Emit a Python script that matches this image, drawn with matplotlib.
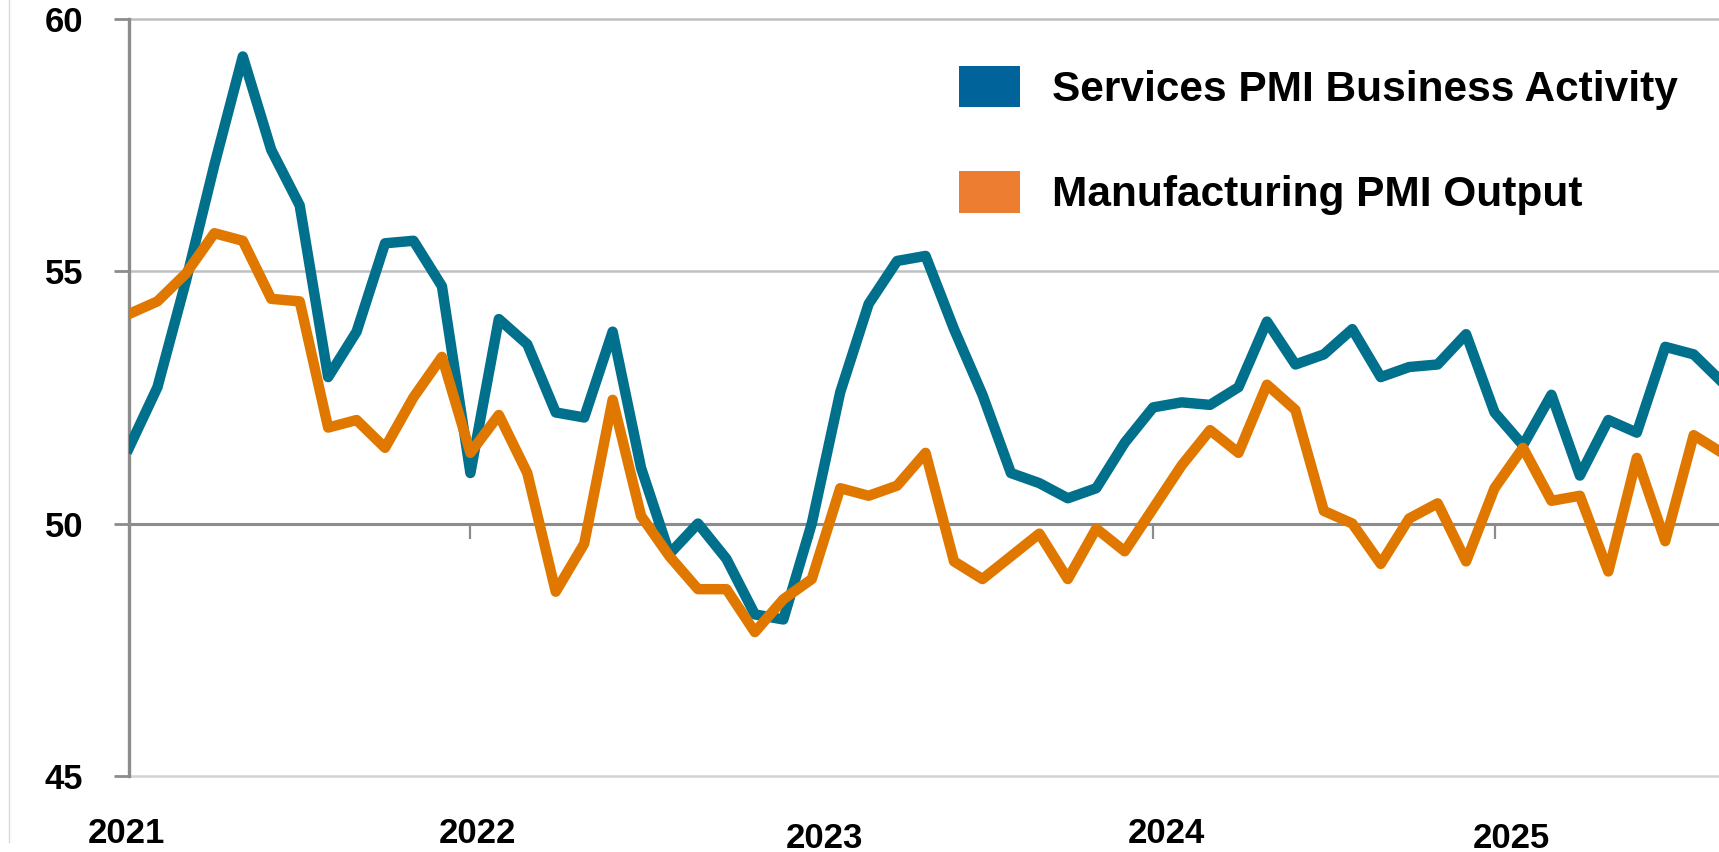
import matplotlib
matplotlib.use("Agg")
import matplotlib.pyplot as plt
from matplotlib.patches import Patch
from matplotlib.lines import Line2D
from matplotlib.transforms import blended_transform_factory

plt.rcParams['font.family'] = ['Liberation Sans', 'DejaVu Sans']

# monthly index, 0 = Jan 2021 ... 56 = Sep 2025
months = list(range(57))

services = [51.5, 52.7, 54.8, 57.1, 59.25, 57.4, 56.3, 52.9, 53.8, 55.55,
            55.6, 54.7, 51.0, 54.05, 53.55, 52.2, 52.1, 53.8, 51.1, 49.4,
            50.0, 49.3, 48.2, 48.1, 50.0, 52.6, 54.35, 55.2, 55.3, 53.85,
            52.55, 51.0, 50.8, 50.5, 50.7, 51.6, 52.3, 52.4, 52.35, 52.7,
            54.0, 53.15, 53.35, 53.85, 52.9, 53.1, 53.15, 53.75, 52.2, 51.55,
            52.55, 50.95, 52.05, 51.8, 53.5, 53.35, 52.8]

manufacturing = [54.15, 54.4, 54.95, 55.75, 55.6, 54.45, 54.4, 51.9, 52.05, 51.5,
                 52.5, 53.3, 51.4, 52.15, 51.0, 48.65, 49.6, 52.45, 50.15, 49.35,
                 48.7, 48.7, 47.85, 48.5, 48.9, 50.7, 50.55, 50.75, 51.4, 49.25,
                 48.9, 49.35, 49.8, 48.9, 49.9, 49.45, 50.3, 51.15, 51.85, 51.4,
                 52.75, 52.25, 50.25, 50.0, 49.2, 50.1, 50.4, 49.25, 50.7, 51.5,
                 50.45, 50.55, 49.05, 51.3, 49.65, 51.75, 51.4]

years = ["2021", "2022", "2023", "2024", "2025"]
year_ticks = [0, 12, 24, 36, 48]
y_ticks = [45, 50, 55, 60]

teal = "#00708c"
orange = "#e07800"
grey = "#8c8c8c"

W, H = 1719, 852
fig = plt.figure(figsize=(W / 100, H / 100), dpi=100)
ax = fig.add_axes([129 / W, (H - 776) / H, 1 - 129 / W, (776 - 18.6) / H])

ax.plot(months, services, color=teal, lw=7.5, solid_joinstyle="round", zorder=3)
ax.plot(months, manufacturing, color=orange, lw=7.5, solid_joinstyle="round", zorder=4)

ax.set_xlim(0, 55.89)
ax.set_ylim(45, 60)

# y axis
ax.set_yticks(y_ticks)
ax.tick_params(axis="y", length=11, width=2, color=grey, pad=22, labelsize=25)
for lbl in ax.get_yticklabels():
    lbl.set_fontweight("bold")
ax.grid(axis="y", color="#c0c0c0", lw=1.8)
ax.set_axisbelow(True)
glines = ax.get_ygridlines()
glines[0].set_color("#d2d2d2")
for gl in glines:
    gl.set_clip_on(False)

# x axis sits on the 50 line, ticks hang down, year labels at the bottom
ax.spines["bottom"].set_position(("data", 50))
ax.spines["bottom"].set_color(grey)
ax.spines["bottom"].set_linewidth(2.2)
ax.spines["left"].set_color(grey)
ax.spines["left"].set_linewidth(2.4)
ax.spines[["top", "right"]].set_visible(False)
ax.set_xticks(year_ticks[1:])
ax.tick_params(axis="x", length=11, width=1.6, color=grey, labelbottom=False)

trans = blended_transform_factory(ax.transData, ax.transAxes)
year_shift = [-0.1, 0.25, 0.45, 0.45, 0.6]
year_dy = [0, 0, 0.006, 0, 0.006]
for yr, t, sx, dy in zip(years, year_ticks, year_shift, year_dy):
    ax.text(t + sx, -0.076 - dy, yr, transform=trans, ha="center", va="center",
            fontsize=25, fontweight="bold")

handles = [Patch(facecolor="#00639a", label="Services PMI Business Activity"),
           Patch(facecolor="#ed7d31", label="Manufacturing PMI Output")]
ax.legend(handles=handles, loc="upper left",
          bbox_to_anchor=(959 / W, 1 - 66 / H), bbox_transform=fig.transFigure,
          frameon=False, prop={"size": 30.5, "weight": "bold"},
          handlelength=1.44, handleheight=1.12, handletextpad=0.75,
          labelspacing=1.45, borderpad=0, borderaxespad=0)

# faint border line on the left of the original screenshot
fig.add_artist(Line2D([9 / W, 9 / W], [1, 10 / H], transform=fig.transFigure,
                      color="#d9d9d9", lw=1))

fig.savefig("out.png", dpi=100)
